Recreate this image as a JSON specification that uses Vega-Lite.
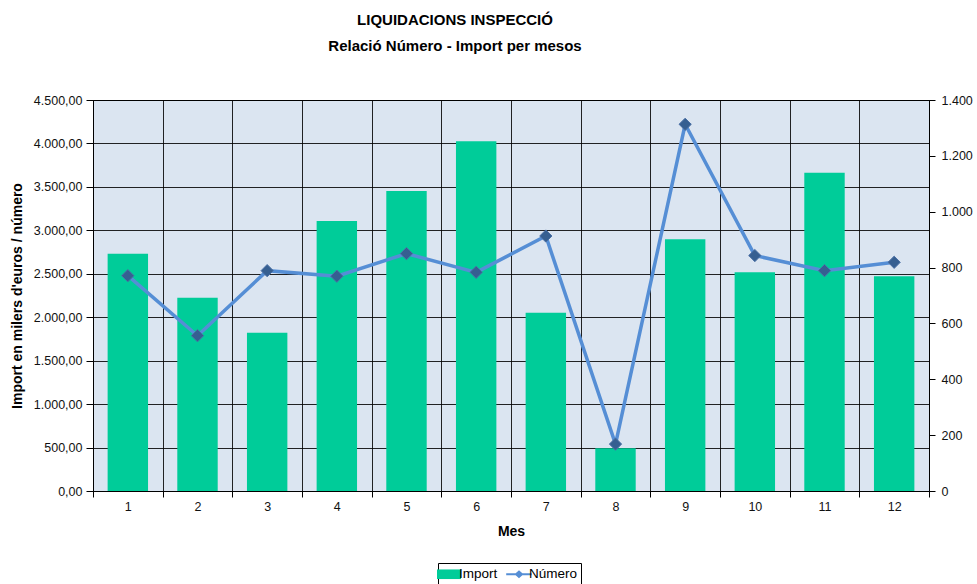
{
  "$schema": "https://vega.github.io/schema/vega-lite/v6.json",
  "autosize": {"type": "none"},
  "width": 836,
  "height": 391,
  "padding": {"left": 93, "top": 100, "right": 48, "bottom": 93},
  "background": "#ffffff",
  "title": {
    "text": ["LIQUIDACIONS INSPECCIÓ", "Relació Número - Import per mesos"],
    "font": "Liberation Sans",
    "fontSize": 15,
    "fontWeight": "bold",
    "lineHeight": 26,
    "anchor": "middle",
    "dx": -56,
    "offset": 40,
    "color": "#000"
  },
  "config": {
    "locale": {"number": {"decimal": ",", "thousands": ".", "grouping": [3], "currency": ["", " €"]}},
    "view": {"fill": "#DBE5F1", "stroke": "#000", "strokeWidth": 1},
    "axis": {
      "labelFont": "Liberation Sans",
      "labelFontSize": 12.5,
      "labelColor": "#111",
      "titleFont": "Liberation Sans",
      "titleFontSize": 14,
      "titleFontWeight": "bold",
      "titleColor": "#000",
      "domainColor": "#000",
      "tickColor": "#000",
      "gridColor": "#000",
      "gridOpacity": 0.85,
      "gridWidth": 1
    }
  },
  "data": {
    "values": [
      {"mes": 1, "import": 2731, "numero": 771},
      {"mes": 2, "import": 2225, "numero": 556},
      {"mes": 3, "import": 1822, "numero": 789},
      {"mes": 4, "import": 3107, "numero": 769},
      {"mes": 5, "import": 3453, "numero": 850},
      {"mes": 6, "import": 4025, "numero": 783},
      {"mes": 7, "import": 2052, "numero": 913},
      {"mes": 8, "import": 491, "numero": 168},
      {"mes": 9, "import": 2897, "numero": 1313},
      {"mes": 10, "import": 2517, "numero": 843},
      {"mes": 11, "import": 3664, "numero": 789},
      {"mes": 12, "import": 2471, "numero": 819}
    ]
  },
  "encoding": {
    "x": {
      "field": "mes",
      "type": "ordinal",
      "title": "Mes",
      "scale": {"paddingInner": 0, "paddingOuter": 0},
      "axis": {
        "labelAngle": 0,
        "tickBand": "extent",
        "grid": true,
        "tickSize": 6,
        "labelPadding": 3,
        "titlePadding": 12,
        "domain": true
      }
    }
  },
  "layer": [
    {
      "mark": {"type": "bar", "width": {"band": 0.58}, "color": "#00CC99"},
      "encoding": {
        "y": {
          "field": "import",
          "type": "quantitative",
          "title": "Import en milers d'euros / número",
          "scale": {"domain": [0, 4500], "nice": false},
          "axis": {
            "orient": "left",
            "values": [0, 500, 1000, 1500, 2000, 2500, 3000, 3500, 4000, 4500],
            "format": ",.2f",
            "grid": true,
            "tickSize": 7,
            "labelPadding": 4,
            "titlePadding": 9
          }
        },
        "color": {
          "datum": "Import",
          "scale": {"domain": ["Import", "Número"], "range": ["#00CC99", "#558ED5"]},
          "legend": {
            "orient": "none",
            "legendX": 345,
            "legendY": 463,
            "direction": "horizontal",
            "title": null,
            "strokeColor": "#000",
            "fillColor": "#fff",
            "padding": 3,
            "labelFont": "Liberation Sans",
            "labelFontSize": 13.5,
            "labelColor": "#000",
            "symbolSize": 256,
            "columnPadding": 8,
            "labelOffset": 2,
            "encode": {
              "symbols": {
                "update": {
                  "shape": {"signal": "datum.value === 'Import' ? 'M-1.5,-0.6L1.5,-0.6L1.5,0.6L-1.5,0.6Z' : 'M-1.6,-0.12L-0.42,-0.12L0,-0.5L0.42,-0.12L1.6,-0.12L1.6,0.12L0.42,0.12L0,0.5L-0.42,0.12L-1.6,0.12Z'"},
                  "fill": {"signal": "datum.value === 'Import' ? '#00CC99' : '#558ED5'"},
                  "stroke": {"value": "transparent"},
                  "strokeWidth": {"value": 0},
                  "opacity": {"value": 1}
                }
              }
            }
          }
        }
      }
    },
    {
      "layer": [
        {
          "mark": {"type": "line", "strokeWidth": 3.5},
          "encoding": {
            "color": {"datum": "Número"}
          }
        },
        {
          "mark": {"type": "point", "shape": "diamond", "filled": true, "size": 150, "color": "#365F91", "stroke": "#4A6FA5", "strokeWidth": 1, "opacity": 1}
        }
      ],
      "encoding": {
        "y": {
          "field": "numero",
          "type": "quantitative",
          "scale": {"domain": [0, 1400], "nice": false},
          "axis": {
            "orient": "right",
            "title": null,
            "values": [0, 200, 400, 600, 800, 1000, 1200, 1400],
            "format": ",d",
            "grid": false,
            "tickSize": 6,
            "labelPadding": 6
          }
        }
      }
    }
  ],
  "resolve": {"scale": {"y": "independent"}}
}
